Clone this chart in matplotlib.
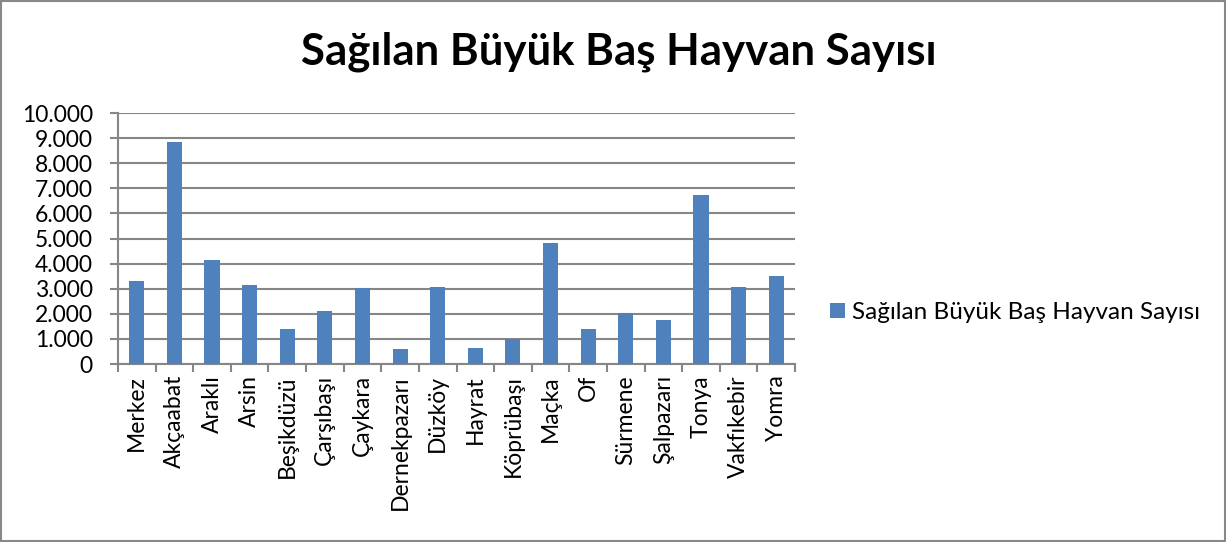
import matplotlib.pyplot as plt
from matplotlib.patches import Rectangle
from matplotlib.ticker import FuncFormatter

plt.rcParams['font.family'] = ['Lato', 'DejaVu Sans']

ilceler = ['Merkez', 'Akçaabat', 'Araklı', 'Arsin', 'Beşikdüzü', 'Çarşıbaşı',
           'Çaykara', 'Dernekpazarı', 'Düzköy', 'Hayrat', 'Köprübaşı', 'Maçka',
           'Of', 'Sürmene', 'Şalpazarı', 'Tonya', 'Vakfıkebir', 'Yomra']
hayvan_sayisi = [3300, 8840, 4130, 3160, 1390, 2130, 3030, 590, 3080,
                 640, 1010, 4810, 1410, 2040, 1750, 6720, 3080, 3510]
baslik = 'Sağılan Büyük Baş Hayvan Sayısı'

fig = plt.figure(figsize=(12.26, 5.42), dpi=100)
fig.patches.append(Rectangle((0.001, 0.002), 0.998, 0.996, transform=fig.transFigure,
                             fill=False, edgecolor='#888888', linewidth=1.5))
ax = fig.add_axes([0.0962, 0.3284, 0.5523, 0.4631])

x = range(len(ilceler))
ax.bar(x, hayvan_sayisi, width=0.4, color='#4f81bd', label=baslik, zorder=3)

ax.set_ylim(0, 10000)
ax.set_yticks(range(0, 10001, 1000))
ax.yaxis.set_major_formatter(FuncFormatter(lambda v, p: f'{int(v):,}'.replace(',', '.')))
ax.set_xlim(-0.5, len(ilceler) - 0.5)
ax.set_xticks(list(x))
ax.set_xticklabels(ilceler, rotation=90)
ax.set_xticks([i - 0.5 for i in range(len(ilceler) + 1)], minor=True)
ax.tick_params(axis='x', which='major', length=0, labelsize=16.5, pad=8)
ax.tick_params(axis='x', which='minor', length=6, width=1.5, color='#868686')
ax.tick_params(axis='y', length=6, width=1.5, color='#868686', labelsize=16.5, pad=12)

ax.grid(axis='y', color='#868686', linewidth=1.5, zorder=0)
for s in ['top', 'right']:
    ax.spines[s].set_visible(False)
for s in ['left', 'bottom']:
    ax.spines[s].set_color('#868686')
    ax.spines[s].set_linewidth(1.5)

fig.text(0.505, 0.905, baslik, ha='center', va='center', fontsize=31.5, fontweight='bold')
fig.legend(loc='center left', bbox_to_anchor=(0.677, 0.423), frameon=False,
           fontsize=17.5, handlelength=0.6, handleheight=0.6, handletextpad=0.3,
           borderpad=0, borderaxespad=0)

fig.savefig('out.png', dpi=100)
